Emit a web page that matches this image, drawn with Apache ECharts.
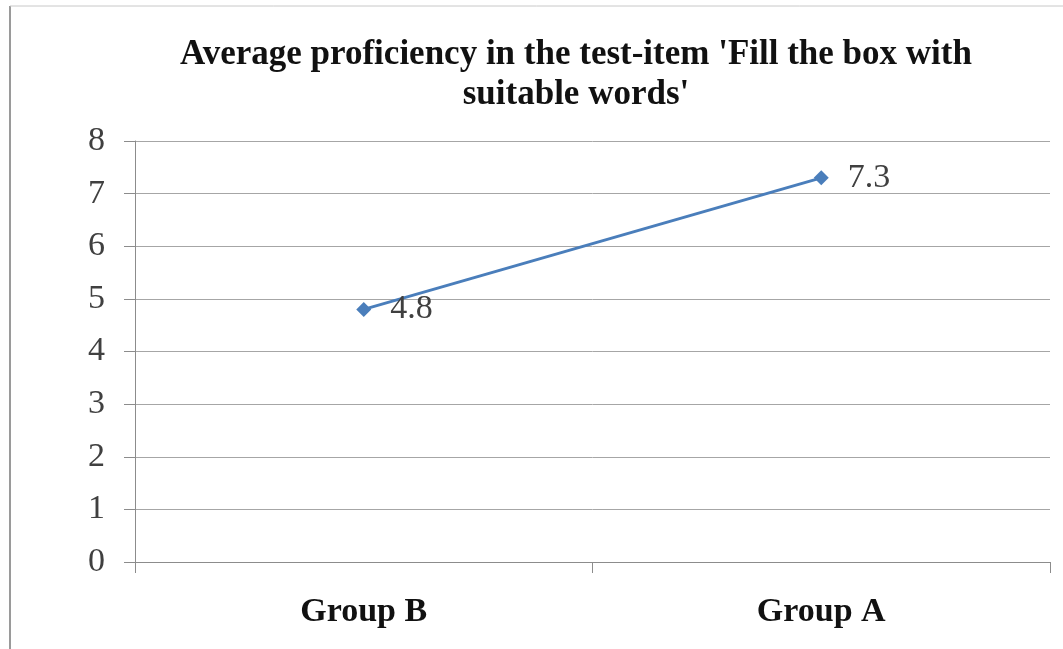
<!DOCTYPE html>
<html>
<head>
<meta charset="utf-8">
<script src="https://cdn.jsdelivr.net/npm/echarts@6/dist/echarts.min.js"></script>
<style>
  html, body { margin: 0; padding: 0; background: #ffffff; }
  #chart { width: 1063px; height: 649px; }
</style>
</head>
<body>
<div id="chart"></div>
<script>
// Average proficiency per group
const titleText = "Average proficiency in the test-item 'Fill the box with\nsuitable words'";
const groups = ['Group B', 'Group A'];
const proficiency = [4.8, 7.3];
const yTicks = { min: 0, max: 8, step: 1 };

const serif = '"Liberation Serif", "Times New Roman", serif';
const chart = echarts.init(document.getElementById('chart'));

chart.setOption({
  backgroundColor: '#ffffff',
  animation: false,
  title: {
    text: titleText,
    left: 571,
    top: 30,
    textAlign: 'center',
    textStyle: {
      fontFamily: serif,
      fontWeight: 'bold',
      fontSize: 35,
      color: '#111111',
      lineHeight: 40
    }
  },
  graphic: [
    { type: 'line', shape: { x1: 10, y1: 6, x2: 10, y2: 649 }, style: { stroke: '#9a9a9a', lineWidth: 2 } },
    { type: 'line', shape: { x1: 10, y1: 6, x2: 1063, y2: 6 }, style: { stroke: '#c8c8c8', lineWidth: 1 } }
  ],
  grid: { left: 135, right: 13, top: 141, bottom: 87 },
  xAxis: {
    type: 'category',
    data: groups,
    boundaryGap: true,
    axisLine: { lineStyle: { color: '#8c8c8c', width: 1 } },
    axisTick: { show: true, length: 11, lineStyle: { color: '#8c8c8c' } },
    axisLabel: {
      fontFamily: serif,
      fontWeight: 'bold',
      fontSize: 34,
      color: '#111111',
      margin: 33
    }
  },
  yAxis: {
    type: 'value',
    min: yTicks.min,
    max: yTicks.max,
    interval: yTicks.step,
    axisLine: { show: true, lineStyle: { color: '#8c8c8c', width: 1 } },
    axisTick: { show: true, length: 11, lineStyle: { color: '#8c8c8c' } },
    splitLine: { lineStyle: { color: '#a6a6a6', width: 1 } },
    axisLabel: {
      fontFamily: serif,
      fontSize: 34,
      color: '#404040',
      margin: 30
    }
  },
  series: [{
    type: 'line',
    data: proficiency,
    symbol: 'diamond',
    symbolSize: 15,
    lineStyle: { color: '#4a7ebb', width: 3 },
    itemStyle: { color: '#4a7ebb' },
    label: {
      show: true,
      position: 'right',
      distance: 19,
      fontFamily: serif,
      fontSize: 34,
      color: '#404040'
    }
  }]
});
</script>
</body>
</html>
